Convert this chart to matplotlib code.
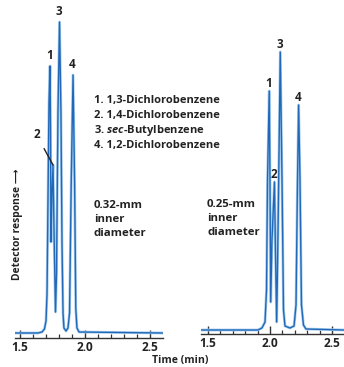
import matplotlib
matplotlib.use("Agg")
import matplotlib.pyplot as plt

# ---- data (time in min, response in arbitrary units) ----
# 0.32-mm column trace
t_left = [1.462, 1.638, 1.669, 1.688, 1.700, 1.708, 1.715, 1.723, 1.731, 1.735,
          1.738, 1.746, 1.754, 1.762, 1.773, 1.781, 1.792, 1.804, 1.815, 1.823,
          1.831, 1.838, 1.854, 1.869, 1.881, 1.894, 1.908, 1.920, 1.929, 1.938,
          1.954, 2.600]
y_left = [0, 0, 1, 4, 12, 40, 130, 230, 267, 200,
          91, 140, 168, 100, 21, 60, 220, 311, 220, 90,
          20, 5, 2, 5, 20, 150, 258, 150, 25, 5,
          1, 0]
# 0.25-mm column trace
t_right = [1.444, 1.903, 1.935, 1.960, 1.972, 1.980, 1.994, 2.000, 2.006, 2.016,
           2.036, 2.044, 2.054, 2.065, 2.083, 2.097, 2.109, 2.121, 2.161, 2.194,
           2.210, 2.222, 2.231, 2.242, 2.254, 2.270, 2.290, 2.597]
y_right = [0, 0, 2, 8, 40, 150, 239, 150, 28, 90,
           148, 80, 8, 100, 278, 150, 20, 4, 2, 4,
           25, 150, 225, 150, 25, 5, 1, 0]

peak_ids = ["1", "2", "3", "4"]
peaks_left_t = [1.731, 1.754, 1.804, 1.908]
peaks_left_y = [267, 168, 311, 258]
peaks_right_t = [1.994, 2.036, 2.083, 2.231]
peaks_right_y = [239, 148, 278, 225]

compounds = ["1. 1,3-Dichlorobenzene", "2. 1,4-Dichlorobenzene",
             "3. $\\mathit{sec}$-Butylbenzene", "4. 1,2-Dichlorobenzene"]
column_labels = ["0.32-mm\ninner\ndiameter", "0.25-mm\ninner\ndiameter"]
xticks_major = [1.5, 2.0, 2.5]
xticklabels = ["1.5", "2.0", "2.5"]

# ---- style ----
FONT = "Open Sans"
plt.rcParams["font.family"] = [FONT, "DejaVu Sans"]
plt.rcParams["font.weight"] = "bold"
plt.rcParams["mathtext.fontset"] = "custom"
plt.rcParams["mathtext.it"] = "Open Sans:italic:bold"
plt.rcParams["mathtext.rm"] = "Open Sans:bold"
TXT = "#222222"
LINE_DARK = "#2169b8"
LINE_LIGHT = "#a9cdee"

W, H = 344, 367
fig = plt.figure(figsize=(W / 100, H / 100), dpi=100)
fig.patch.set_facecolor("white")

def px_axes(x0, x1, ytop, ybot):
    return fig.add_axes([x0 / W, 1 - ybot / H, (x1 - x0) / W, (ybot - ytop) / H])

axL = px_axes(15, 163, 8, 338)
axR = px_axes(201, 344, 6, 334)

setups = [
    (axL, t_left, y_left, (1.4615, 2.600), (-5, 325)),
    (axR, t_right, y_right, (1.4435, 2.597), (-4, 324)),
]

for ax, t, y, xl, yl in setups:
    ax.plot(t, y, color=LINE_LIGHT, lw=2.0, solid_joinstyle="round", zorder=2)
    ax.plot(t, y, color=LINE_DARK, lw=1.0, solid_joinstyle="round", zorder=3)
    ax.set_xlim(*xl)
    ax.set_ylim(*yl)
    for s in ["top", "right", "left"]:
        ax.spines[s].set_visible(False)
    ax.spines["bottom"].set_color("#333333")
    ax.spines["bottom"].set_linewidth(1.0)
    ax.set_yticks([])
    ax.set_xticks(xticks_major)
    ax.set_xticklabels(xticklabels)
    ax.set_xticks([1.6, 1.7, 1.8, 1.9, 2.1, 2.2, 2.3, 2.4], minor=True)
    ax.tick_params(axis="x", which="major", direction="in", length=6, width=1.0,
                   colors="#333333", labelsize=8.6, pad=2, labelcolor=TXT)
    ax.tick_params(axis="x", which="minor", direction="in", length=3, width=0.9,
                   colors="#333333")
    for lab in ax.get_xticklabels():
        lab.set_fontweight("bold")
    ax.patch.set_alpha(0)

# peak labels (left panel)
for i, (tt, yy) in enumerate(zip(peaks_left_t, peaks_left_y)):
    if peak_ids[i] == "2":
        axL.annotate(peak_ids[i], xy=(tt, yy), xytext=(-12, 22), textcoords="offset points",
                     ha="center", va="center", fontsize=8.4, fontweight="bold", color=TXT,
                     arrowprops=dict(arrowstyle="-", color="#222222", lw=1.0,
                                     shrinkA=4, shrinkB=0))
    else:
        axL.annotate(peak_ids[i], xy=(tt, yy), xytext=(-0.5, 3), textcoords="offset points",
                     ha="center", va="bottom", fontsize=8.4, fontweight="bold", color=TXT)
# peak labels (right panel)
for i, (tt, yy) in enumerate(zip(peaks_right_t, peaks_right_y)):
    axR.annotate(peak_ids[i], xy=(tt, yy), xytext=(-0.5, 1), textcoords="offset points",
                 ha="center", va="bottom", fontsize=8.4, fontweight="bold", color=TXT)

# compound list
for i, c in enumerate(compounds):
    fig.text(94 / W, 1 - (100 + 15.3 * i) / H, c, fontsize=8.0, fontweight="bold",
             color=TXT, ha="left", va="center")

# column labels
fig.text(94 / W, 1 - 200 / H, column_labels[0], fontsize=8.2, fontweight="bold",
         color=TXT, ha="left", va="top", linespacing=1.38)
fig.text(207 / W, 1 - 199 / H, column_labels[1], fontsize=8.2, fontweight="bold",
         color=TXT, ha="left", va="top", linespacing=1.38)

# axis titles
fig.text(18 / W, 1 - 224 / H, "Detector response \u27f6", rotation=90, fontsize=7.4,
         fontweight="bold", color=TXT, ha="center", va="center")
fig.text(180 / W, 1 - 361 / H, "Time (min)", fontsize=7.6, fontweight="bold",
         color=TXT, ha="center", va="center")

fig.savefig("out.png", dpi=100, facecolor="white")
